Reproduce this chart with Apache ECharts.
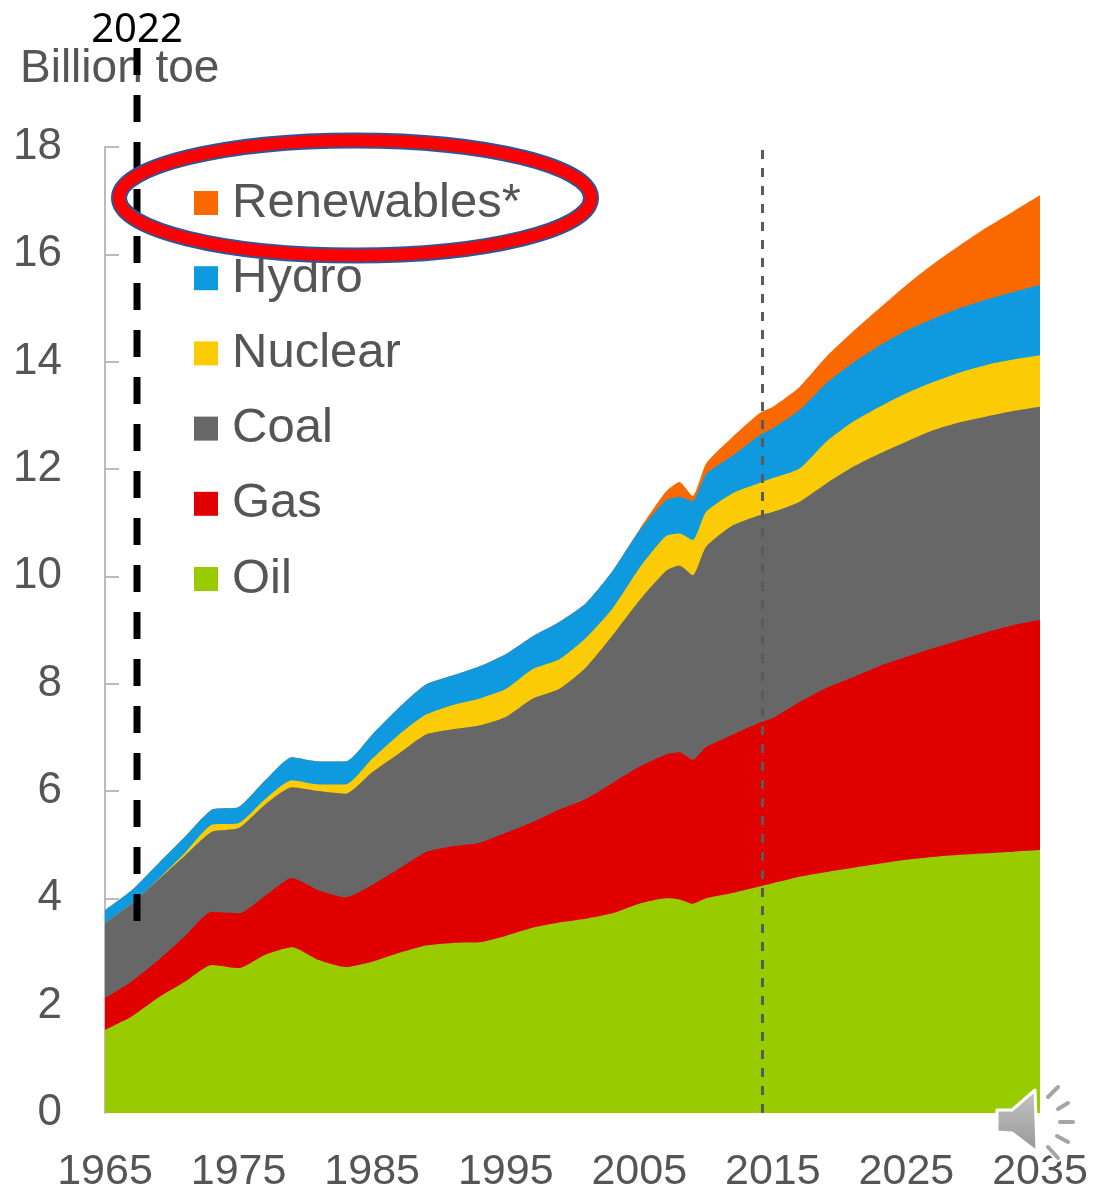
<!DOCTYPE html>
<html>
<head>
<meta charset="utf-8">
<style>html,body{margin:0;padding:0;background:#fff}#c{width:1099px;height:1194px}</style>
<script src="https://cdn.jsdelivr.net/npm/echarts@6/dist/echarts.min.js"></script>
</head>
<body>
<div id="c"></div>
<script>
const years = [1965,1967,1969,1971,1973,1975,1977,1979,1981,1983,1985,1987,1989,1991,1993,1995,1997,1999,2001,2003,2005,2007,2008,2009,2010,2012,2014,2015,2017,2019,2021,2023,2025,2027,2029,2031,2033,2035];
const oil = [1.55,1.80,2.15,2.45,2.76,2.70,2.95,3.09,2.85,2.72,2.82,2.98,3.12,3.17,3.18,3.30,3.45,3.55,3.62,3.72,3.90,4.00,3.98,3.90,4.00,4.10,4.22,4.28,4.40,4.49,4.57,4.65,4.72,4.77,4.81,4.84,4.87,4.90];
const gas = [0.59,0.65,0.70,0.85,0.99,1.02,1.10,1.29,1.30,1.30,1.43,1.57,1.74,1.80,1.85,1.92,1.97,2.10,2.23,2.43,2.55,2.68,2.74,2.68,2.82,2.95,3.05,3.08,3.26,3.43,3.55,3.68,3.78,3.89,4.00,4.12,4.22,4.29];
const coal = [1.40,1.45,1.50,1.50,1.49,1.59,1.70,1.69,1.85,1.93,2.10,2.15,2.19,2.18,2.19,2.16,2.30,2.25,2.45,2.75,3.10,3.42,3.48,3.44,3.73,3.90,3.87,3.84,3.73,3.81,3.92,3.96,4.01,4.06,4.06,4.02,3.99,3.97];
const nuclear = [0,0,0.01,0.05,0.13,0.09,0.10,0.13,0.12,0.17,0.25,0.35,0.37,0.45,0.50,0.52,0.55,0.55,0.55,0.50,0.60,0.65,0.60,0.66,0.65,0.60,0.60,0.63,0.62,0.78,0.84,0.87,0.90,0.90,0.93,0.96,0.96,0.96];
const hydro = [0.24,0.25,0.29,0.30,0.28,0.30,0.35,0.43,0.43,0.43,0.45,0.50,0.56,0.55,0.60,0.65,0.61,0.70,0.65,0.70,0.70,0.67,0.68,0.72,0.70,0.70,0.89,0.93,1.09,1.09,1.10,1.14,1.17,1.18,1.20,1.22,1.26,1.31];
const renewables = [0,0,0,0,0,0,0,0,0,0,0,0,0,0,0,0,0,0,0,0,0.02,0.16,0.28,0.10,0.20,0.35,0.41,0.40,0.43,0.49,0.58,0.70,0.85,1.02,1.17,1.34,1.50,1.67];
const legendOrder = ['Renewables*','Hydro','Nuclear','Coal','Gas','Oil'];
const yTicks = [2,4,6,8,10,12,14,16,18];
const forecastStart = 2014.2;

const FONT = '"Liberation Sans", Arial, sans-serif';
const TEXT = '#555555';
const running = years.map(() => 0);
const stackSeries = [
  ['Oil', oil, '#99CC00'],
  ['Gas', gas, '#E00000'],
  ['Coal', coal, '#676767'],
  ['Nuclear', nuclear, '#FBCB05'],
  ['Hydro', hydro, '#0F9ADF'],
  ['Renewables*', renewables, '#FA6800']
].map(([name, vals, color], i) => {
  vals.forEach((v, k) => { running[k] += v; });
  const s = {
    name, type: 'line', showSymbol: false, symbol: 'none', silent: true, smooth: 0.2,
    data: years.map((y, k) => [y, +running[k].toFixed(2)]),
    itemStyle: { color },
    lineStyle: { width: 0, color },
    areaStyle: { color, opacity: 1, origin: 'start' },
    z: 10 - i
  };
  if (i === 0) {
    s.markLine = {
      silent: true, symbol: 'none', label: { show: false }, animation: false, z: 20,
      lineStyle: { color: '#5a5a5a', width: 3, type: [9, 9] },
      data: [[{ coord: [forecastStart, 0] }, { coord: [forecastStart, 18] }]]
    };
  }
  return s;
});

const ray = (x1, y1, x2, y2) => ([
  { type: 'line', z: 110, shape: { x1, y1, x2, y2 }, style: { stroke: '#fff', lineWidth: 8, lineCap: 'round' } },
  { type: 'line', z: 111, shape: { x1, y1, x2, y2 }, style: { stroke: '#a5a5a5', lineWidth: 4, lineCap: 'round' } }
]);

const chart = echarts.init(document.getElementById('c'), null, { renderer: 'canvas' });
chart.setOption({
  animation: false,
  backgroundColor: '#fff',
  title: { text: 'Billion toe', left: 20, top: 46, padding: 0,
    textStyle: { fontFamily: FONT, fontSize: 46, fontWeight: 'normal', color: TEXT } },
  grid: { left: 105, right: 59, top: 147, bottom: 81, containLabel: false, outerBoundsMode: 'none' },
  legend: {
    orient: 'vertical', left: 189, top: 172, icon: 'rect', itemWidth: 24, itemHeight: 24, itemGap: 23.2,
    selectedMode: false, data: legendOrder,
    textStyle: { fontFamily: FONT, fontSize: 49, lineHeight: 50, color: TEXT, padding: [2, 0, 0, 9] }
  },
  xAxis: {
    type: 'value', min: 1965, max: 2035, interval: 5,
    axisLine: { show: false }, axisTick: { show: false }, splitLine: { show: false },
    axisLabel: { margin: 38, fontFamily: FONT, fontSize: 43, color: TEXT, showMinLabel: true, showMaxLabel: true, hideOverlap: false,
      formatter: v => (v - 1965) % 10 === 0 ? String(v) : '' }
  },
  yAxis: {
    type: 'value', min: 0, max: 18, interval: 2,
    axisLine: { show: true, lineStyle: { color: '#bbbbbb', width: 2 } },
    axisTick: { show: true, inside: true, length: 14, customValues: yTicks, lineStyle: { color: '#bbbbbb', width: 2 } },
    splitLine: { show: false },
    axisLabel: { margin: 43, fontFamily: FONT, fontSize: 44, color: TEXT }
  },
  series: stackSeries,
  graphic: [
    { type: 'text', z: 100, x: 137, y: 31, style: { text: '2022', fontFamily: '"Noto Sans", sans-serif', fontSize: 40, fill: '#000', align: 'center', verticalAlign: 'middle' } },
    { type: 'line', z: 100, shape: { x1: 137, y1: 48, x2: 137, y2: 921 }, style: { stroke: '#000', lineWidth: 7, lineDash: [27, 20] } },
    { type: 'ellipse', z: 101, shape: { cx: 355, cy: 198, rx: 236, ry: 57.5 }, style: { fill: 'none', stroke: '#2F5597', lineWidth: 16 } },
    { type: 'ellipse', z: 102, shape: { cx: 355, cy: 198, rx: 236, ry: 57.5 }, style: { fill: 'none', stroke: '#FF0000', lineWidth: 12 } },
    { type: 'polygon', z: 110, shape: { points: [[997,1110],[1012,1110],[1035,1090],[1037,1152],[1012,1133],[997,1132]] },
      style: { stroke: '#fff', lineWidth: 3, lineJoin: 'round',
        fill: new echarts.graphic.LinearGradient(0, 0, 0, 1, [{ offset: 0, color: '#c4c4c4' }, { offset: 1, color: '#979797' }]) } },
    ...ray(1048,1097,1058,1087),
    ...ray(1058,1109,1068,1103),
    ...ray(1060,1122,1073,1122),
    ...ray(1057,1136,1068,1142),
    ...ray(1048,1147,1058,1158)
  ]
});
</script>
</body>
</html>
